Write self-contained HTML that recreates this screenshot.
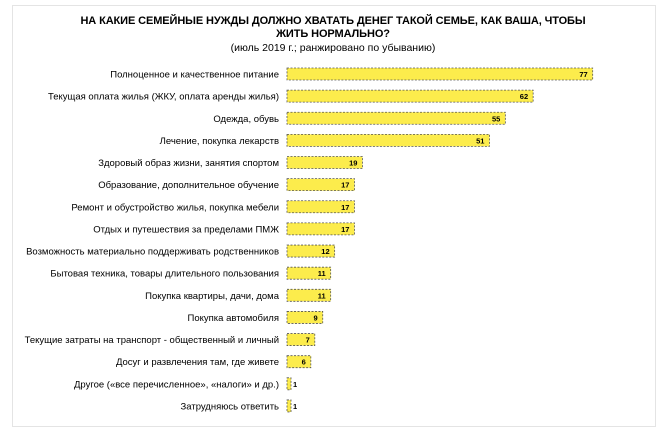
<!DOCTYPE html>
<html><head><meta charset="utf-8"><style>
body{margin:0;background:#fff;width:666px;height:430px;overflow:hidden;font-family:"Liberation Sans",sans-serif}
#frame{position:absolute;left:12px;top:5px;width:642px;height:420px;border:1px solid #e4e4e4}
.t{position:absolute;left:0;width:666px;text-align:center;color:#000}
</style></head><body>
<div id="frame"></div>
<div class="t" style="top:15px;font-size:11px;font-weight:bold;line-height:13px;letter-spacing:-0.1px">НА КАКИЕ СЕМЕЙНЫЕ НУЖДЫ ДОЛЖНО ХВАТАТЬ ДЕНЕГ ТАКОЙ СЕМЬЕ, КАК ВАША, ЧТОБЫ<br>ЖИТЬ НОРМАЛЬНО?</div>
<div class="t" style="top:42px;font-size:10.5px">(июль 2019 г.; ранжировано по убыванию)</div>
<svg id="c" width="666" height="430" style="position:absolute;left:0;top:0"></svg>
<script>
const categories=["Полноценное и качественное питание","Текущая оплата жилья (ЖКУ, оплата аренды жилья)","Одежда, обувь","Лечение, покупка лекарств","Здоровый образ жизни, занятия спортом","Образование, дополнительное обучение","Ремонт и обустройство жилья, покупка мебели","Отдых и путешествия за пределами ПМЖ","Возможность материально поддерживать родственников","Бытовая техника, товары длительного пользования","Покупка квартиры, дачи, дома","Покупка автомобиля","Текущие затраты на транспорт - общественный и личный","Досуг и развлечения там, где живете","Другое («все перечисленное», «налоги» и др.)","Затрудняюсь ответить"];
const values=[77,62,55,51,19,17,17,17,12,11,11,9,7,6,1,1];
const svg=document.getElementById('c');const NS='http://www.w3.org/2000/svg';
const x0=287,k=3.97,y0=74,step=22.13,bh=12;
const xs=v=>v*k, ys=i=>y0+i*step;
categories.forEach((c,i)=>{
 const y=ys(i);
 const t=document.createElementNS(NS,'text');
 
 
 t.setAttribute('x',279);t.setAttribute('y',y+3.5);t.setAttribute('text-anchor','end');
 t.setAttribute('font-size','9.5');t.setAttribute('font-family','Liberation Sans, sans-serif');t.textContent=c;svg.appendChild(t);
 const w=Math.max(xs(values[i]),4);
 const r=document.createElementNS(NS,'rect');
 
 
 r.setAttribute('x',x0);r.setAttribute('y',y-bh/2);r.setAttribute('width',w);r.setAttribute('height',bh);
 r.setAttribute('fill','#fcec4c');r.setAttribute('stroke','#555');r.setAttribute('stroke-width','0.8');r.setAttribute('stroke-dasharray','2,1.5');svg.appendChild(r);
 const v=document.createElementNS(NS,'text');
 
 
 v.setAttribute('x',values[i]<3?x0+w+2:x0+w-5);v.setAttribute('y',y+3);v.setAttribute('text-anchor',values[i]<3?'start':'end');
 v.setAttribute('font-size','7.5');v.setAttribute('font-weight','bold');v.setAttribute('font-family','Liberation Sans, sans-serif');v.textContent=values[i];svg.appendChild(v);
});
</script>
</body></html>
